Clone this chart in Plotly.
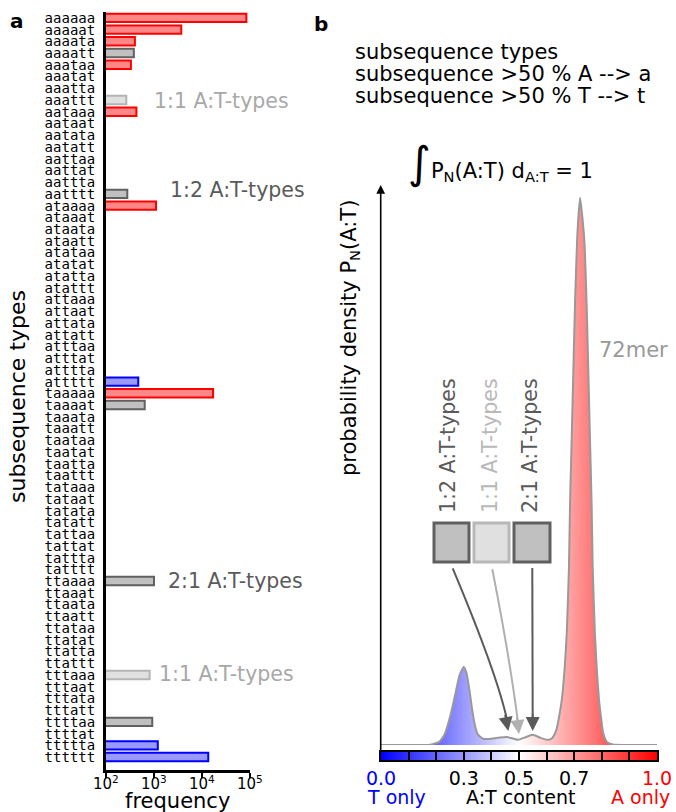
import math
import plotly.graph_objects as go

W, H = 676, 812


def px(x):
    return x / W


def py(y):
    return 1 - y / H


# ---------------- data ----------------
subsequence_types = [
    "aaaaaa", "aaaaat", "aaaata", "aaaatt", "aaataa", "aaatat", "aaatta", "aaattt",
    "aataaa", "aataat", "aatata", "aatatt", "aattaa", "aattat", "aattta", "aatttt",
    "ataaaa", "ataaat", "ataata", "ataatt", "atataa", "atatat", "atatta", "atattt",
    "attaaa", "attaat", "attata", "attatt", "atttaa", "atttat", "atttta", "attttt",
    "taaaaa", "taaaat", "taaata", "taaatt", "taataa", "taatat", "taatta", "taattt",
    "tataaa", "tataat", "tatata", "tatatt", "tattaa", "tattat", "tattta", "tatttt",
    "ttaaaa", "ttaaat", "ttaata", "ttaatt", "ttataa", "ttatat", "ttatta", "ttattt",
    "tttaaa", "tttaat", "tttata", "tttatt", "ttttaa", "ttttat", "ttttta", "tttttt",
]

bar_types = ["aaaaaa", "aaaaat", "aaaata", "aaaatt", "aaataa", "aaattt", "aataaa",
             "aatttt", "ataaaa", "attttt", "taaaaa", "taaaat", "ttaaaa", "tttaaa",
             "ttttaa", "ttttta", "tttttt"]
bar_freq = [84000, 3700, 400, 380, 330, 265, 430, 278, 1100, 470, 17000, 640,
            1000, 810, 920, 1200, 13500]
bar_group = ["A", "A", "A", "2:1", "A", "1:1", "A", "1:2", "A", "T", "A", "2:1",
             "2:1", "1:1", "1:2", "T", "T"]

freq_tickvals = [100, 1000, 10000, 100000]
freq_ticktext = ["10<sup>2</sup>", "10<sup>3</sup>", "10<sup>4</sup>", "10<sup>5</sup>"]

at_content = [0.00, 0.10, 0.17, 0.19, 0.21, 0.23, 0.25, 0.27, 0.285, 0.30, 0.31,
              0.32, 0.33, 0.34, 0.35, 0.37, 0.40, 0.43, 0.457, 0.48, 0.497, 0.52,
              0.55, 0.58, 0.605, 0.62, 0.635, 0.645, 0.655, 0.665, 0.673, 0.681,
              0.685, 0.691, 0.697, 0.703, 0.711, 0.721, 0.736, 0.745, 0.751, 0.757,
              0.763, 0.767, 0.775, 0.783, 0.790, 0.798, 0.805, 0.819, 0.84, 0.90, 1.00]
density = [0.0, 0.0, 0.0, 0.02, 0.05, 0.18, 0.49, 0.91, 1.23, 1.37, 1.26,
           0.98, 0.63, 0.35, 0.19, 0.11, 0.11, 0.13, 0.14, 0.11, 0.09, 0.13,
           0.18, 0.12, 0.09, 0.12, 0.26, 0.49, 0.79, 1.32, 1.96, 3.12,
           4.25, 5.40, 6.58, 7.75, 8.91, 9.60, 8.91, 7.75, 6.58, 5.40,
           4.25, 3.12, 1.96, 1.25, 0.79, 0.45, 0.21, 0.05, 0.01, 0.0, 0.0]

cbar_ends = [0.0, 1.0]
cbar_tickvals = [0.0, 0.1, 0.2, 0.3, 0.4, 0.5, 0.6, 0.7, 0.8, 0.9, 1.0]
cbar_ticktext = ["<span style='color:#0000ff'>0.0</span>", "", "", "0.3", "", "0.5",
                 "", "0.7", "", "", "<span style='color:#ff0000'>1.0</span>"]

# ---------------- styles ----------------
FONT = "DejaVu Sans"
group_fill = {"A": "rgba(255,0,0,0.47)", "T": "rgba(0,0,255,0.40)",
              "2:1": "#c0c0c0", "1:2": "#c0c0c0", "1:1": "#e0e0e0"}
group_line = {"A": "#ff0000", "T": "#0000ff",
              "2:1": "#606060", "1:2": "#606060", "1:1": "#b4b4b4"}
DARK = "#5a5a5a"
LIGHT = "#a8a8a8"
bwr = [[0, "rgb(0,0,255)"], [0.5, "rgb(255,255,255)"], [1, "rgb(255,0,0)"]]

fig = go.Figure()

# panel a bars
fig.add_trace(go.Bar(
    x=bar_freq,
    y=[subsequence_types.index(s) for s in bar_types],
    orientation="h",
    width=0.72,
    marker=dict(color=[group_fill[g] for g in bar_group],
                line=dict(color=[group_line[g] for g in bar_group], width=2)),
    xaxis="x", yaxis="y", hoverinfo="skip",
))

# panel b density
fig.add_trace(go.Scatter(
    x=at_content, y=density, mode="lines",
    line=dict(color="#999999", width=2, shape="spline", smoothing=0.5),
    fill="tozeroy",
    fillgradient=dict(type="horizontal", colorscale=bwr, start=0, stop=1),
    xaxis="x2", yaxis="y2", hoverinfo="skip",
))

# colour bar strip
fig.add_trace(go.Heatmap(
    z=[cbar_ends], x=cbar_ends, y=[0.5], colorscale=bwr, zmin=0, zmax=1,
    zsmooth="best", showscale=False, xaxis="x3", yaxis="y3", hoverinfo="skip",
))

ann = []


def text(t, x, y, size, color="black", xanchor="center", angle=0, **kw):
    ann.append(dict(text=t, x=px(x), y=py(y), xref="paper", yref="paper",
                    xanchor=xanchor, yanchor="middle", showarrow=False,
                    textangle=angle, font=dict(size=size, color=color, family=FONT), **kw))


# panel labels
text("<b>a</b>", 17, 21, 20)
text("<b>b</b>", 321, 24, 20)

# frequency tick labels (drawn on the log axis positions)
for v, t in zip(freq_tickvals, freq_ticktext):
    ann.append(dict(text=t, x=math.log10(v), xref="x", y=py(783), yref="paper",
                    xanchor="center", yanchor="middle", showarrow=False,
                    font=dict(size=15, family=FONT, color="black")))

# panel a texts
text("subsequence types", 17, 397, 22, angle=-90)
text("frequency", 177, 801, 21)
text("1:1 A:T-types", 152, 101, 20.5, LIGHT, xanchor="left")
text("1:2 A:T-types", 168, 190, 20.5, DARK, xanchor="left")
text("2:1 A:T-types", 166, 581, 20.5, DARK, xanchor="left")
text("1:1 A:T-types", 157, 674, 20.5, LIGHT, xanchor="left")

# panel b texts
text("subsequence types", 353, 52, 21, xanchor="left")
text("subsequence >50 % A --> a", 353, 74, 21, xanchor="left")
text("subsequence >50 % T --> t", 353, 96, 21, xanchor="left")
text("<span style='font-size:44px'>∫</span>P<sub>N</sub>(A:T) d<sub>A:T</sub> = 1",
     500, 162, 21)
text("probability density P<sub>N</sub>(A:T)", 350, 338, 21, angle=-90)
text("72mer", 597, 350, 21, "#999999", xanchor="left")
text("1:2 A:T-types", 448, 446, 20.5, DARK, angle=-90)
text("1:1 A:T-types", 490, 446, 20.5, "#b8b8b8", angle=-90)
text("2:1 A:T-types", 530, 446, 20.5, DARK, angle=-90)
text("T only", 396, 797, 19, "#0000ff")
text("A:T content", 520, 797, 19)
text("A only", 640, 797, 19, "#ff0000")


# arrows
def arrow(x, y, ax, ay, color, width=2, head=2, size=1.4):
    ann.append(dict(text="", x=px(x), y=py(y), xref="paper", yref="paper",
                    ax=ax, ay=ay, axref="pixel", ayref="pixel", showarrow=True,
                    arrowhead=head, arrowsize=size, arrowwidth=width, arrowcolor=color))


arrow(380.7, 185, 0, 567, "black", width=1.6, head=2, size=1.1)
arrow(508.3, 731, -3.4, -17.7, DARK)
arrow(519.0, 734, -2.1, -17.9, "#b0b0b0")
arrow(532.7, 731, 0, -18, DARK)

shapes = []


def box(x0, x1, fill, line):
    shapes.append(dict(type="rect", xref="paper", yref="paper",
                       x0=px(x0), x1=px(x1), y0=py(562), y1=py(523),
                       fillcolor=fill, line=dict(color=line, width=3)))


box(434, 469, "#c0c0c0", "#606060")
box(474, 509, "#e0e0e0", "#b8b8b8")
box(514, 550, "#c0c0c0", "#606060")


def curve(p0, c, p1, color):
    shapes.append(dict(type="path", xref="paper", yref="paper",
                       path=f"M {px(p0[0])},{py(p0[1])} Q {px(c[0])},{py(c[1])} {px(p1[0])},{py(p1[1])}",
                       line=dict(color=color, width=2)))


curve((452.7, 568.3), (498, 676), (507.5, 722), DARK)
curve((492.3, 569.3), (510.2, 660), (518.4, 726), "#b0b0b0")
curve((532.3, 568), (532.5, 650), (532.7, 722), DARK)

fig.update_layout(
    width=W, height=H, margin=dict(l=0, r=0, t=0, b=0, autoexpand=False),
    paper_bgcolor="white", plot_bgcolor="rgba(0,0,0,0)", showlegend=False,
    font=dict(family=FONT, color="black"),
    annotations=ann, shapes=shapes,
    xaxis=dict(type="log", range=[2, 5], domain=[px(106), px(250)], anchor="y",
               tickvals=freq_tickvals, showticklabels=False, ticks="outside",
               ticklen=5, tickwidth=2, tickcolor="black", showline=True,
               linewidth=3, linecolor="black", showgrid=False, zeroline=False,
               automargin=False),
    yaxis=dict(range=[64.1, -0.5], domain=[py(770), py(12)], anchor="x",
               tickvals=list(range(len(subsequence_types))), ticktext=subsequence_types,
               ticks="", showline=True, linewidth=3, linecolor="black",
               showgrid=False, zeroline=False, ticklabelstandoff=5,
               automargin=False, tickfont=dict(size=14, family="DejaVu Sans Mono")),
    xaxis2=dict(range=[0, 1], domain=[px(381), px(657)], anchor="y2",
                visible=False, automargin=False),
    yaxis2=dict(range=[0, 560 / 57], domain=[py(745), py(185)], anchor="x2",
                visible=False, automargin=False),
    xaxis3=dict(range=[0, 1], domain=[px(381), px(657)], anchor="y3",
                tickvals=cbar_tickvals, ticktext=cbar_ticktext, ticks="inside",
                ticklen=8, tickwidth=1.5, tickcolor="black", showline=True,
                mirror=True, linewidth=2, linecolor="black", showgrid=False,
                zeroline=False, automargin=False, tickfont=dict(size=19, family=FONT)),
    yaxis3=dict(range=[0, 1], domain=[py(760), py(752)], anchor="x3",
                showline=True, mirror=True, linewidth=2, linecolor="black",
                showticklabels=False, ticks="", showgrid=False, zeroline=False,
                automargin=False),
)

fig.write_html("out.html")
